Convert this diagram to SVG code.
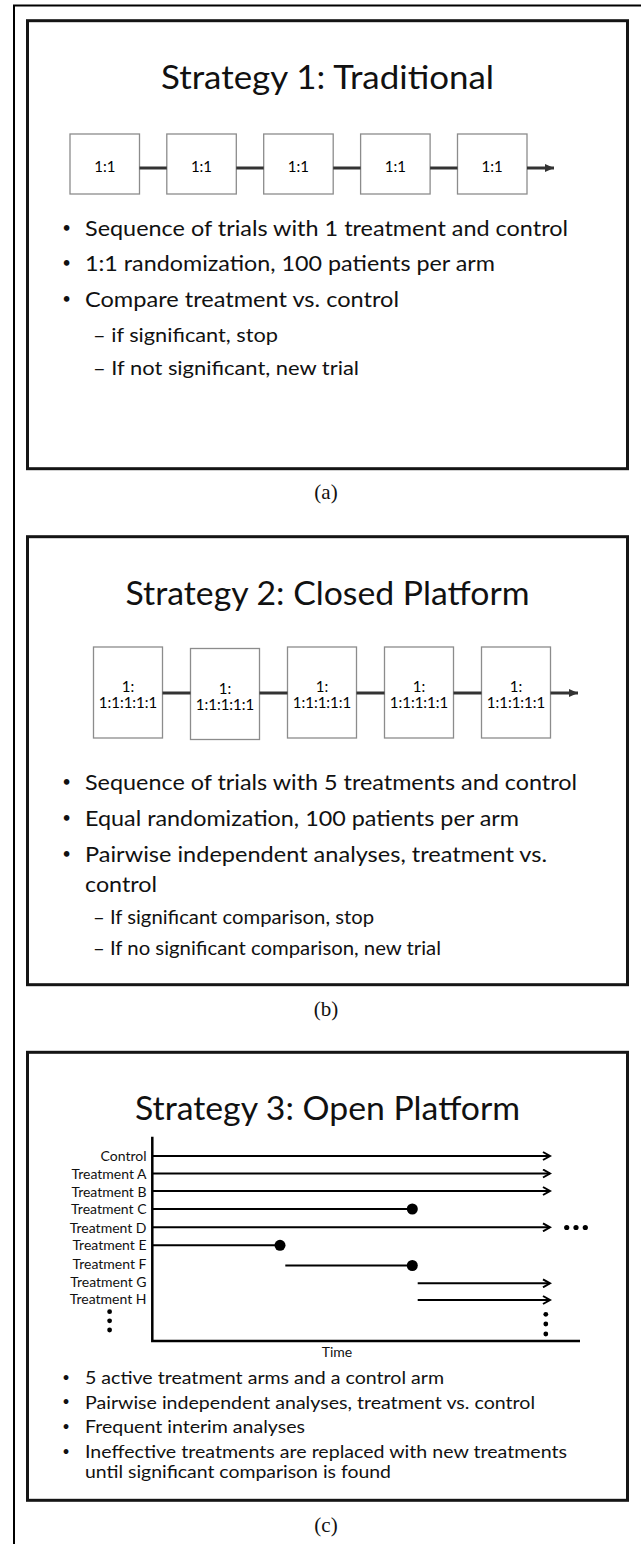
<svg xmlns="http://www.w3.org/2000/svg" width="641" height="1544" viewBox="0 0 641 1544">
<style>
.panel{fill:#fff;stroke:#151515;stroke-width:3}
.box{fill:#fff;stroke:#8c8c8c;stroke-width:1.3}
.title{font-family:Lato,"Open Sans",sans-serif;font-size:33px;fill:#111;text-anchor:middle}
.bl{font-family:Lato,"Open Sans",sans-serif;font-size:22px;fill:#111}
.sb{font-family:Lato,"Open Sans",sans-serif;font-size:19.5px;fill:#111}
.cb{font-family:Lato,"Open Sans",sans-serif;font-size:18px;fill:#111}
.dot{font-family:Lato,"Open Sans",sans-serif;font-size:15px;fill:#111;text-anchor:middle}
.bt{font-family:Lato,"Open Sans",sans-serif;font-size:15px;fill:#000;text-anchor:middle}
.lab{font-family:Lato,"Open Sans",sans-serif;font-size:14px;fill:#111;text-anchor:end}
.cap{font-family:"Liberation Serif",serif;font-size:21px;fill:#111;text-anchor:middle}
.conn{stroke:#333;stroke-width:3;fill:none}
.arm{stroke:#000;stroke-width:2;fill:none}
</style>
<defs>
<marker id="tri" markerUnits="userSpaceOnUse" markerWidth="10" markerHeight="8" refX="9" refY="4" orient="auto">
<path d="M0,0 L9,4 L0,8 Z" fill="#333"/>
</marker>
<marker id="chev" markerUnits="userSpaceOnUse" markerWidth="10" markerHeight="10" refX="8" refY="5" orient="auto">
<path d="M1,1 L8,5 L1,9" fill="none" stroke="#000" stroke-width="2"/>
</marker>
</defs>

<path id="frame" d="M14,1544 V5.5 H641" fill="none" stroke="#000" stroke-width="2"/>

<!-- Panel (a) -->
<g id="panel-a">
<rect class="panel" x="27.5" y="20.7" width="600" height="448"/>
<text class="title" x="327.5" y="88.5" textLength="333" lengthAdjust="spacingAndGlyphs">Strategy 1: Traditional</text>
<text class="dot" x="66.5" y="233">•</text>
<text class="bl" x="85" y="236" textLength="483" lengthAdjust="spacingAndGlyphs">Sequence of trials with 1 treatment and control</text>
<text class="dot" x="66.5" y="268">•</text>
<text class="bl" x="85" y="271" textLength="410" lengthAdjust="spacingAndGlyphs">1:1 randomization, 100 patients per arm</text>
<text class="dot" x="66.5" y="303.5">•</text>
<text class="bl" x="85" y="306.5" textLength="314" lengthAdjust="spacingAndGlyphs">Compare treatment vs. control</text>
<text class="sb" x="93" y="341.5" textLength="185" lengthAdjust="spacingAndGlyphs">– if significant, stop</text>
<text class="sb" x="93" y="375" textLength="266" lengthAdjust="spacingAndGlyphs">– If not significant, new trial</text>
</g>
<g id="a-box1"><rect class="box" x="70" y="134" width="69.5" height="60"/><text class="bt" x="104.8" y="172">1:1</text></g>
<g id="a-box2"><rect class="box" x="166.8" y="134" width="69.5" height="60"/><text class="bt" x="201.5" y="172">1:1</text></g>
<g id="a-box3"><rect class="box" x="263.7" y="134" width="69.5" height="60"/><text class="bt" x="298.4" y="172">1:1</text></g>
<g id="a-box4"><rect class="box" x="360.6" y="134" width="69.5" height="60"/><text class="bt" x="395.3" y="172">1:1</text></g>
<g id="a-box5"><rect class="box" x="457.5" y="134" width="69.5" height="60"/><text class="bt" x="492.2" y="172">1:1</text></g>
<text id="cap-a" class="cap" x="326" y="499">(a)</text>

<!-- Panel (b) -->
<g id="panel-b">
<rect class="panel" x="27.5" y="536.7" width="600" height="448"/>
<text class="title" x="327.5" y="605" textLength="404" lengthAdjust="spacingAndGlyphs">Strategy 2: Closed Platform</text>
<text class="dot" x="66.5" y="787">•</text>
<text class="bl" x="85" y="790" textLength="492" lengthAdjust="spacingAndGlyphs">Sequence of trials with 5 treatments and control</text>
<text class="dot" x="66.5" y="823">•</text>
<text class="bl" x="85" y="826" textLength="434" lengthAdjust="spacingAndGlyphs">Equal randomization, 100 patients per arm</text>
<text class="dot" x="66.5" y="858.5">•</text>
<text class="bl" x="85" y="861.5" textLength="462" lengthAdjust="spacingAndGlyphs">Pairwise independent analyses, treatment vs.</text>
<text class="bl" x="85" y="891.5" textLength="72" lengthAdjust="spacingAndGlyphs">control</text>
<text class="sb" x="93" y="924" textLength="281" lengthAdjust="spacingAndGlyphs">– If significant comparison, stop</text>
<text class="sb" x="93" y="955" textLength="348" lengthAdjust="spacingAndGlyphs">– If no significant comparison, new trial</text>
</g>
<g id="b-box1"><rect class="box" x="93.5" y="647" width="69" height="91"/><text class="bt" x="128" y="692">1:</text><text class="bt" x="128" y="708">1:1:1:1:1</text></g>
<g id="b-box2"><rect class="box" x="190.5" y="648.5" width="69" height="91"/><text class="bt" x="225" y="693.5">1:</text><text class="bt" x="225" y="709.5">1:1:1:1:1</text></g>
<g id="b-box3"><rect class="box" x="287.5" y="647" width="69" height="91"/><text class="bt" x="322" y="692">1:</text><text class="bt" x="322" y="708">1:1:1:1:1</text></g>
<g id="b-box4"><rect class="box" x="384.5" y="647" width="69" height="91"/><text class="bt" x="419" y="692">1:</text><text class="bt" x="419" y="708">1:1:1:1:1</text></g>
<g id="b-box5"><rect class="box" x="481.5" y="647" width="69" height="91"/><text class="bt" x="516" y="692">1:</text><text class="bt" x="516" y="708">1:1:1:1:1</text></g>
<text id="cap-b" class="cap" x="326" y="1016">(b)</text>

<!-- Panel (c) -->
<g id="panel-c">
<rect class="panel" x="27.5" y="1052.3" width="600" height="448"/>
<text class="title" x="327.5" y="1120" textLength="385" lengthAdjust="spacingAndGlyphs">Strategy 3: Open Platform</text>
<path d="M152.3,1136.7 V1341 H580" fill="none" stroke="#000" stroke-width="2.5"/>
<text class="lab" x="146.5" y="1161">Control</text>
<text class="lab" x="146.5" y="1178.5">Treatment A</text>
<text class="lab" x="146.5" y="1196.5">Treatment B</text>
<text class="lab" x="146.5" y="1214.3">Treatment C</text>
<text class="lab" x="146.5" y="1232.5">Treatment D</text>
<text class="lab" x="146.5" y="1250.3">Treatment E</text>
<text class="lab" x="146.5" y="1268.7">Treatment F</text>
<text class="lab" x="146.5" y="1286.7">Treatment G</text>
<text class="lab" x="146.5" y="1304.3">Treatment H</text>
<circle cx="109.6" cy="1311.7" r="2.4" fill="#000"/>
<circle cx="109.6" cy="1320.8" r="2.4" fill="#000"/>
<circle cx="109.6" cy="1330" r="2.4" fill="#000"/>
<circle cx="545.8" cy="1314.3" r="2.4" fill="#000"/>
<circle cx="545.8" cy="1324" r="2.4" fill="#000"/>
<circle cx="545.8" cy="1334" r="2.4" fill="#000"/>
<circle cx="566.7" cy="1227.5" r="2.6" fill="#000"/>
<circle cx="576" cy="1227.5" r="2.6" fill="#000"/>
<circle cx="585.3" cy="1227.5" r="2.6" fill="#000"/>
<text class="lab" x="337" y="1357" style="text-anchor:middle">Time</text>
<text class="dot" x="66" y="1381.5" style="font-size:13px">•</text>
<text class="cb" x="85" y="1384" textLength="359" lengthAdjust="spacingAndGlyphs">5 active treatment arms and a control arm</text>
<text class="dot" x="66" y="1406" style="font-size:13px">•</text>
<text class="cb" x="85" y="1408.5" textLength="450" lengthAdjust="spacingAndGlyphs">Pairwise independent analyses, treatment vs. control</text>
<text class="dot" x="66" y="1430.8" style="font-size:13px">•</text>
<text class="cb" x="85" y="1433.3" textLength="220" lengthAdjust="spacingAndGlyphs">Frequent interim analyses</text>
<text class="dot" x="66" y="1455.8" style="font-size:13px">•</text>
<text class="cb" x="85" y="1458.3" textLength="482" lengthAdjust="spacingAndGlyphs">Ineffective treatments are replaced with new treatments</text>
<text class="cb" x="85" y="1478.3" textLength="306" lengthAdjust="spacingAndGlyphs">until significant comparison is found</text>
</g>
<text id="cap-c" class="cap" x="326" y="1532">(c)</text>

<g id="connectors">
<line class="conn" x1="139.5" y1="168" x2="166.8" y2="168"/>
<line class="conn" x1="236.3" y1="168" x2="263.7" y2="168"/>
<line class="conn" x1="333.2" y1="168" x2="360.6" y2="168"/>
<line class="conn" x1="430.1" y1="168" x2="457.5" y2="168"/>
<line class="conn" x1="527" y1="168" x2="554" y2="168" marker-end="url(#tri)"/>
<line class="conn" x1="162.5" y1="693" x2="190.5" y2="693"/>
<line class="conn" x1="259.5" y1="693" x2="287.5" y2="693"/>
<line class="conn" x1="356.5" y1="693" x2="384.5" y2="693"/>
<line class="conn" x1="453.5" y1="693" x2="481.5" y2="693"/>
<line class="conn" x1="550.5" y1="693" x2="578" y2="693" marker-end="url(#tri)"/>
<line class="arm" x1="152.3" y1="1156" x2="550" y2="1156" marker-end="url(#chev)"/>
<line class="arm" x1="152.3" y1="1173.5" x2="550" y2="1173.5" marker-end="url(#chev)"/>
<line class="arm" x1="152.3" y1="1191" x2="550" y2="1191" marker-end="url(#chev)"/>
<line class="arm" x1="152.3" y1="1209" x2="412.3" y2="1209"/>
<circle cx="412.3" cy="1209" r="5.5" fill="#000"/>
<line class="arm" x1="152.3" y1="1227.3" x2="550" y2="1227.3" marker-end="url(#chev)"/>
<line class="arm" x1="152.3" y1="1245.3" x2="280" y2="1245.3"/>
<circle cx="280" cy="1245.3" r="5.5" fill="#000"/>
<line class="arm" x1="285.3" y1="1265.5" x2="412.3" y2="1265.5"/>
<circle cx="412.3" cy="1265.5" r="5.5" fill="#000"/>
<line class="arm" x1="417.7" y1="1283.3" x2="550" y2="1283.3" marker-end="url(#chev)"/>
<line class="arm" x1="417.7" y1="1300" x2="550" y2="1300" marker-end="url(#chev)"/>
</g>
</svg>
